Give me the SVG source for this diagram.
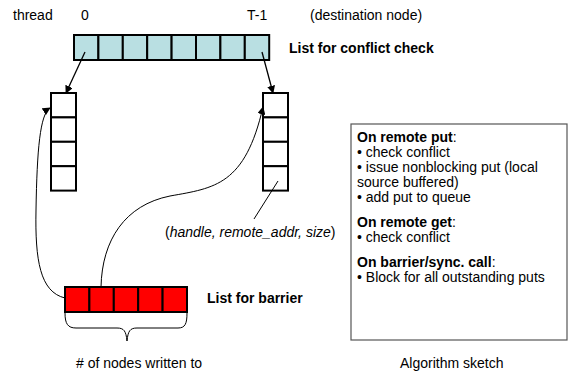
<svg xmlns="http://www.w3.org/2000/svg" width="569" height="375" viewBox="0 0 569 375">
<style>
text{font-family:"Liberation Sans",Arial,sans-serif;font-size:14px;fill:#000}
.b{font-weight:bold}
.i{font-style:italic}
.cell{stroke:#000;stroke-width:2}
.cy{fill:#b9dfe2}
.rd{fill:#ff0000}
.wh{fill:#fff}
.con{fill:none;stroke:#000}
</style>
<defs>
<marker id="ah" viewBox="0 0 10 10" refX="9" refY="5" markerWidth="8" markerHeight="8" markerUnits="userSpaceOnUse" orient="auto">
<path d="M0,0 L10,5 L0,10 z" fill="#000"/>
</marker>
</defs>
<rect width="569" height="375" fill="#fff"/>
<g id="labels">
<text x="13" y="20">thread</text>
<text x="81" y="20">0</text>
<text x="247" y="20">T-1</text>
<text x="310" y="20">(destination node)</text>
</g>
<g id="conflict-list">
<rect class="cell cy" x="74" y="35" width="24.4" height="25"/>
<rect class="cell cy" x="98.4" y="35" width="24.4" height="25"/>
<rect class="cell cy" x="122.8" y="35" width="24.4" height="25"/>
<rect class="cell cy" x="147.2" y="35" width="24.4" height="25"/>
<rect class="cell cy" x="171.6" y="35" width="24.4" height="25"/>
<rect class="cell cy" x="196" y="35" width="24.4" height="25"/>
<rect class="cell cy" x="220.4" y="35" width="24.4" height="25"/>
<rect class="cell cy" x="244.8" y="35" width="24.4" height="25"/>
<text class="b" x="289" y="53">List for conflict check</text>
</g>
<g id="queue-left">
<rect class="cell wh" x="51" y="93" width="25" height="24.4"/>
<rect class="cell wh" x="51" y="117.4" width="25" height="24.4"/>
<rect class="cell wh" x="51" y="141.8" width="25" height="24.4"/>
<rect class="cell wh" x="51" y="166.2" width="25" height="24.4"/>
</g>
<g id="queue-right">
<rect class="cell wh" x="263" y="93" width="25" height="24.4"/>
<rect class="cell wh" x="263" y="117.4" width="25" height="24.4"/>
<rect class="cell wh" x="263" y="141.8" width="25" height="24.4"/>
<rect class="cell wh" x="263" y="166.2" width="25" height="24.4"/>
<text x="165" y="237">(<tspan class="i">handle, remote_addr, size</tspan>)</text>
</g>
<g id="barrier-list">
<rect class="cell rd" x="65" y="287" width="24.4" height="25"/>
<rect class="cell rd" x="89.4" y="287" width="24.4" height="25"/>
<rect class="cell rd" x="113.8" y="287" width="24.4" height="25"/>
<rect class="cell rd" x="138.2" y="287" width="24.4" height="25"/>
<rect class="cell rd" x="162.6" y="287" width="24.4" height="25"/>
<text class="b" x="207" y="303">List for barrier</text>
<path class="con" d="M65,313 C65,324 68,328 76,328 L117,328 C124,328 126,331 127,341 C128,331 130,328 137,328 L178,328 C185,328 187,324 187,313"/>
<text x="76" y="368"># of nodes written to</text>
</g>
<g id="algorithm-box">
<rect x="351" y="124" width="216" height="216" fill="#fff" stroke="#555" stroke-width="1.2"/>
<text x="357" y="142"><tspan class="b">On remote put</tspan>:</text>
<text x="357" y="157">• check conflict</text>
<text x="357" y="172">• issue nonblocking put (local</text>
<text x="357" y="187">source buffered)</text>
<text x="357" y="202">• add put to queue</text>
<text x="357" y="227"><tspan class="b">On remote get</tspan>:</text>
<text x="357" y="242">• check conflict</text>
<text x="357" y="267"><tspan class="b">On barrier/sync. call</tspan>:</text>
<text x="357" y="282">• Block for all outstanding puts</text>
<text x="400" y="368">Algorithm sketch</text>
</g>
<g id="connectors">
<line class="con" x1="85" y1="52" x2="66" y2="93" stroke-width="1.3" marker-end="url(#ah)"/>
<line class="con" x1="262" y1="52" x2="273" y2="93" stroke-width="1.3" marker-end="url(#ah)"/>
<path class="con" d="M65,298 C40,292 35,260 36,210 C37,150 40,114 50,108" marker-end="url(#ah)"/>
<path class="con" d="M101,287 C102,240 125,205 170,196 C215,188 245,185 263,107" marker-end="url(#ah)"/>
<line class="con" x1="278" y1="181" x2="254" y2="219"/>
</g>
</svg>
